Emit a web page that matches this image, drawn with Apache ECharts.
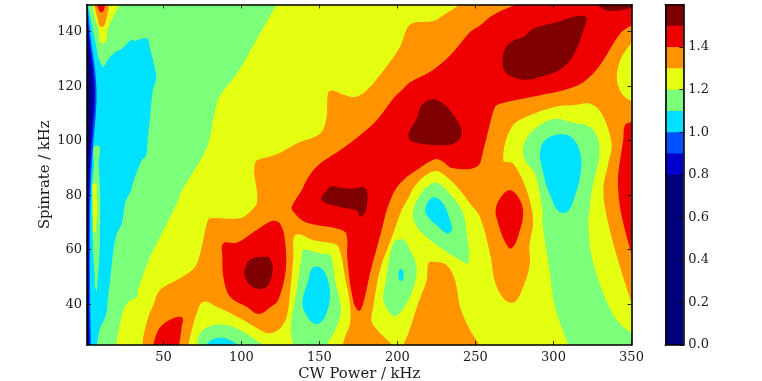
<!DOCTYPE html>
<html>
<head>
<meta charset="utf-8">
<style>html,body{margin:0;padding:0;background:#fff}#c{width:762px;height:381px}</style>
<script src="https://cdn.jsdelivr.net/npm/echarts@6/dist/echarts.min.js"></script>
</head>
<body>
<div id="c"></div>
<script>
// Contour levels (colour bar)
const levelEdges = [0, 0.8, 0.9, 1.0, 1.1, 1.2, 1.3, 1.4, 1.5, 1.6];
const levelColors = ['#00007f', '#0000cd', '#0050ff', '#00e0ff', '#7cff7a', '#e4ff12', '#ff9400', '#ee0000', '#7f0000'];
const colorbarTicks = [0, 0.2, 0.4, 0.6, 0.8, 1.0, 1.2, 1.4];
const xTicks = [50, 100, 150, 200, 250, 300, 350];
const yTicks = [40, 60, 80, 100, 120, 140];

// Filled regions, [CW power kHz, spinrate kHz]
const plotArea = [[1,25],[350,25],[350,150],[1,150]];
const greenLeft = [[1,150],[122.6,150],[111.9,139.4],[97.2,124.7],[86.3,116.7],[83.1,111.2],[77.9,97.6],[61.9,81.8],[58.7,77.1],[47.8,64.6],[41.4,57.3],[33.7,45.2],[33.1,42.6],[27.3,40.8],[23.5,36],[19.6,25],[1,25]];
const yellowLobe = [[4.3,150],[6.2,144.9],[8.1,141.6],[11.3,135.7],[14.5,141.2],[17.7,145.3],[22.2,150]];
const orangeLobe = [[5.7,150],[7.6,145.4],[10.5,141.7],[13.7,145.4],[15.1,150]];
const redLobe = [[7.5,150],[10.3,147.1],[12.6,150]];
const cyanMain = [[10.9,127.3],[14.7,130.1],[19,132.5],[23.3,133.8],[29.7,137.1],[31.8,136.6],[39.3,137.5],[41.4,133.8],[44.6,126.5],[45.3,122.8],[43.2,118.5],[41.4,108.7],[39.9,100.2],[38.9,94.7],[36.1,92.8],[30.7,84.9],[29.2,81.8],[25.4,77],[23.3,69.6],[20.1,65.9],[17.9,59.8],[15.8,48.8],[14.3,41.5],[13.2,36],[9.4,31.1],[7.3,25],[1,25],[1,150],[1.7,150],[6.2,136.8]];
const greenInner = [[7.3,98.3],[8.4,91],[9.4,81.8],[9.4,69],[9.1,59.9],[7.8,48.8],[6.8,45.2],[5.9,50.7],[4.9,59.9],[4.3,70.8],[4.3,81.8],[5.5,91]];
const yellowInner = [[5.7,84.4],[7.1,80],[7.8,74.5],[6.8,69],[5.7,66.4],[5.2,69],[4.8,76.3],[4.9,80]];
const blueEdge = [[1.4,150],[3.6,136.8],[6.2,125.8],[7.1,118.5],[6.8,111.2],[5.2,100.2],[3.9,89.2],[3,74.5],[3,41.5],[3.6,25],[1,25],[1,150]];
const darkBlueEdge = [[1,148],[2.7,136.8],[5.1,125.8],[6,118.5],[5.7,111.2],[4.1,100.2],[3,89.2],[2.3,74.5],[2.3,41.5],[2.7,25],[1,25]];
const navyEdge = [[1,144],[1.8,136.8],[4,125.8],[4.9,118.5],[4.6,111.2],[3,100.2],[2,89.2],[1.6,74.5],[1.6,41.5],[1.9,25],[1,25]];
const orangeMain = [[240.1,150],[229.2,146],[222.8,143.9],[209.9,143.2],[205.9,141.1],[201.6,134.4],[192,126.5],[180.3,118.5],[172.8,116],[165.1,117],[156.8,118.3],[155,114.8],[154.6,108.7],[150.4,102.6],[135.4,99],[122.6,95],[109.8,92.8],[108.7,91.7],[108.1,88.1],[109.8,81.8],[109.8,77.1],[105.5,73.9],[99.1,71.5],[79.9,71.5],[77.8,69.6],[74.5,61],[70.3,53.7],[60.6,49.5],[47.8,45.2],[43.5,39.7],[40.3,35.4],[37.1,28.1],[36.7,25],[197.1,25],[188.8,29.4],[183.5,33.6],[184.5,39],[188.8,52.5],[197.3,65.9],[202.7,74.5],[208,80],[210.1,82.5],[216.6,86.7],[224.5,88.9],[231.5,86.7],[240.1,81.8],[246.5,76.9],[252.9,72],[259.3,58.6],[263.6,46.4],[273.2,40.5],[280.6,46.4],[284.9,55],[284.5,61.1],[287,70.8],[282.8,81.8],[274.2,91.6],[267.8,92.8],[273.2,105],[284.9,109.3],[302,112.6],[312.7,113],[323.4,113.6],[330.9,110],[337.3,98.9],[335.1,91.6],[331.9,81.8],[335.1,69.6],[342.6,53.7],[350,40.5],[350,150]];
const yellowRightEdge = [[350,136],[343.7,130.7],[340.5,123.4],[343.7,117.3],[350,114.5]];
const yellowPatch = [[66,25],[68.1,30.5],[71.3,36.6],[75.6,40.9],[84.2,39],[99.1,34.8],[114,29.9],[118.3,29.3],[124.7,31.1],[129,35.4],[131.1,43.9],[133.3,57.4],[133.7,64.7],[137.5,65.6],[146.1,63.5],[156.8,62.5],[162.1,61.1],[166.4,50],[169.6,39.7],[169.6,33],[166.4,28],[164.9,25]];
const greenBottom = [[71.7,25],[73.5,29.3],[79.9,32],[90.6,32.3],[101,29.9],[110.8,26.2],[114,25]];
const cyanBottom = [[77.3,25],[81,26.9],[86.3,27.7],[91.6,27.1],[98,25]];
const green150 = [[133.3,25],[131.6,31.7],[135.4,45.2],[138.6,57.4],[139.6,59.9],[150.4,58.6],[156.8,58],[158.5,55],[160,48.8],[163.8,37.8],[160,30.5],[154.6,25]];
const cyan150 = [[146.1,53.5],[152.5,52.5],[156.8,44],[153.6,35.4],[148.3,32.7],[142.9,34.8],[139,40.3],[142.9,48.8]];
const orangeBottom = [[219.8,55],[223,55.6],[231.5,54.4],[236.9,48.8],[240.1,39],[246.5,30.5],[252.9,25],[203.7,25],[207,29.3],[213.3,40.4],[218.7,48.8]];
const greenRight = [[302.4,108.1],[294.5,106.9],[284.9,102.6],[280.6,97.7],[281.7,92.8],[288.1,88],[290.7,81.8],[293,74.5],[293,69.6],[297.7,51.3],[300.9,39],[309.5,25],[350,25],[350,29.3],[340.5,34.2],[331.9,44],[324.5,57.4],[322.3,69.6],[323.4,75.7],[324.5,81.8],[329.3,94],[328.7,100.2],[323.4,105],[310.6,106.9]];
const cyanRight = [[303.1,102.3],[310.6,101.6],[315.9,97.7],[318,91.6],[314.9,81.8],[306.3,73.5],[296.6,81.8],[293.5,88],[291.3,95.3],[294.5,100.2]];
const green200 = [[202.7,63.8],[205.9,62.3],[212.3,53.1],[208,42.7],[199.5,35.7],[195.2,36.7],[190.9,41.5],[192,46.4],[197.3,62.3]];
const cyan200 = [[202.3,52.9],[204,50.7],[202.3,48.5],[200.5,50.7]];
const green225 = [[210.1,74.5],[216.6,81.8],[223,84.5],[226.2,84.5],[231.5,81.8],[241.2,74.5],[244.4,66],[245.4,55.2],[240.1,56.2],[225.1,61.7],[212.3,68.4]];
const cyan225 = [[223,79.2],[228.3,77.6],[232.6,72.7],[233.7,66.2],[225.1,69],[218.7,72.7],[218.1,75.7]];
const redBig = [[276.4,150],[265.7,147.5],[259.3,145.4],[252.9,142.3],[246.5,139.9],[233.7,131.3],[220.8,125.2],[208,121.5],[203.7,119.1],[197.3,115.5],[186.7,107.5],[176,102],[163.2,96.5],[150.4,91.6],[142.9,86.7],[138.6,81.8],[132.2,75.7],[133.3,73.9],[140.7,70.2],[161,67.8],[167,66],[167.8,57.4],[170.7,44],[174.9,37.6],[178.1,40.3],[182.4,51.3],[189.9,67.2],[193.1,74.5],[198.4,81.8],[203.7,85.5],[212.3,89.2],[224,93.2],[229.4,92.2],[234.8,90],[250.8,90.4],[255,96.5],[259.3,106.3],[262.5,112.4],[265.7,113.6],[291.3,116.7],[306.3,118.5],[319.1,121.5],[329.8,127.7],[342.6,139.3],[350,142.3],[350,150]];
const redLeft = [[88.4,62.3],[97,62.5],[109.8,67.2],[119.4,70.5],[124.7,69.6],[127.9,63.5],[128.4,52.5],[123.6,41.5],[118.3,38.8],[110.8,36.4],[103.4,39],[92.7,42.7],[88.4,50],[87.8,57.4]];
const redBottom = [[43.5,25],[46.7,30.5],[52.1,33.6],[61.7,35.2],[61.7,31.7],[60,25]];
const red275 = [[272.1,81.8],[278.5,78.2],[280.6,73.3],[278.5,67.2],[273.2,60.5],[268.9,62.9],[264.6,69.6],[262.9,74.5],[265.7,78.8]];
const redRight = [[350,106.9],[345.8,105.7],[344.7,100.2],[341.5,88],[341.5,81.8],[342.6,75.7],[345.8,67.2],[350,58.6]];
const darkLeft = [[105.5,56.4],[114,57.4],[118.3,56.8],[120,52.5],[117.2,47],[111.9,45.5],[105.5,47],[101.9,50.7],[102.3,53.1]];
const darkMid = [[154.6,81.8],[157.9,83.3],[165.3,82.5],[173.9,82.5],[177.1,83.1],[180.3,81.8],[180.3,75.7],[176.4,72.1],[174.3,74.3],[163.2,75.7],[151.4,78.2]];
const darkCentre = [[215.5,113],[222,115.2],[229.4,113.6],[236.9,108.7],[241.2,103.2],[238,99.5],[230.5,98.3],[210.1,99.5],[206.9,102],[212.3,108.1]];
const darkUpper = [[320.2,145.6],[319.1,140.5],[312.7,131.3],[304.2,126.1],[291.3,123.4],[280.6,122.4],[270,124.6],[267.4,128.3],[268.9,133.8],[274.2,136.8],[280.6,138],[287,141.1],[302,143.5]];
const darkCorner = [[327.7,150],[334.1,147.8],[342.6,147.8],[350,148.8],[350,150]];

const [navy, darkBlue, blue, cyan, green, yellow, orange, red, darkRed] = levelColors;
const regions = [
  [plotArea, yellow], [greenLeft, green], [yellowLobe, yellow], [orangeLobe, orange], [redLobe, red],
  [cyanMain, cyan], [greenInner, green], [yellowInner, yellow],
  [blueEdge, blue], [darkBlueEdge, darkBlue], [navyEdge, navy],
  [orangeMain, orange], [yellowRightEdge, yellow], [yellowPatch, yellow],
  [greenBottom, green], [cyanBottom, cyan], [green150, green], [cyan150, cyan],
  [orangeBottom, orange], [greenRight, green], [cyanRight, cyan],
  [green200, green], [cyan200, cyan], [green225, green], [cyan225, cyan],
  [redBig, red], [redLeft, red], [redBottom, red], [red275, red], [redRight, red],
  [darkLeft, darkRed], [darkMid, darkRed], [darkCentre, darkRed], [darkUpper, darkRed], [darkCorner, darkRed]
];

// Rounded outline through the region's vertices; vertices on the plot frame stay sharp.
const onFrame = p => p[0] <= 1 || p[0] >= 350 || p[1] <= 25 || p[1] >= 150;
function outline(pts, api) {
  const s = pts.map(p => api.coord(p));
  const n = s.length;
  const dist = (a, b) => Math.hypot(a[0] - b[0], a[1] - b[1]);
  const unit = i => {
    if (onFrame(pts[i])) return [0, 0];
    const a = s[(i + n - 1) % n], b = s[(i + 1) % n];
    const d = dist(a, b) || 1;
    return [(b[0] - a[0]) / d, (b[1] - a[1]) / d];
  };
  let out = 'M' + s[0][0] + ' ' + s[0][1];
  for (let i = 0; i < n; i++) {
    const j = (i + 1) % n, t0 = unit(i), t1 = unit(j), d = dist(s[i], s[j]) * 0.33;
    out += 'C' + (s[i][0] + t0[0] * d) + ' ' + (s[i][1] + t0[1] * d) + ' ' +
      (s[j][0] - t1[0] * d) + ' ' + (s[j][1] - t1[1] * d) + ' ' + s[j][0] + ' ' + s[j][1];
  }
  return out + 'Z';
}

const font = {fontFamily: 'DejaVu Serif', fontSize: 13, color: '#1a1a1a'};
const line = {show: true, onZero: false, lineStyle: {color: '#000', width: 1.6}};
const tick = v => ({show: true, inside: true, length: 4, customValues: v, lineStyle: {color: '#000', width: 0.8}});
const chart = echarts.init(document.getElementById('c'), null, {renderer: 'canvas'});
chart.setOption({
  animation: false,
  grid: [
    {left: 87, top: 4.5, width: 544.5, height: 340.5, outerBoundsMode: 'none'},
    {left: 665.3, top: 4.5, width: 18, height: 340.5, outerBoundsMode: 'none'}
  ],
  xAxis: [
    {type: 'value', gridIndex: 0, min: 1, max: 350, position: 'bottom', z: 5, axisLine: line, axisTick: tick(xTicks),
     splitLine: {show: false}, axisLabel: {...font, margin: 6, customValues: xTicks},
     name: 'CW Power / kHz', nameLocation: 'middle', nameGap: 22, nameMoveOverlap: false,
     nameTextStyle: {fontFamily: 'DejaVu Serif', fontSize: 14.8, color: '#1a1a1a'}},
    {type: 'value', gridIndex: 0, min: 1, max: 350, position: 'top', z: 5, axisLine: line, axisTick: tick(xTicks),
     splitLine: {show: false}, axisLabel: {show: false}},
    {type: 'value', gridIndex: 1, min: 0, max: 1, position: 'bottom', z: 5, axisLine: line, axisTick: {show: false},
     splitLine: {show: false}, axisLabel: {show: false}},
    {type: 'value', gridIndex: 1, min: 0, max: 1, position: 'top', z: 5, axisLine: line, axisTick: {show: false},
     splitLine: {show: false}, axisLabel: {show: false}}
  ],
  yAxis: [
    {type: 'value', gridIndex: 0, min: 25, max: 150, position: 'left', z: 5, axisLine: line, axisTick: tick(yTicks),
     splitLine: {show: false}, axisLabel: {...font, margin: 5, customValues: yTicks},
     name: 'Spinrate / kHz', nameLocation: 'middle', nameGap: 34, nameRotate: 90, nameMoveOverlap: false,
     nameTextStyle: {fontFamily: 'DejaVu Serif', fontSize: 14.8, color: '#1a1a1a'}},
    {type: 'value', gridIndex: 0, min: 25, max: 150, position: 'right', z: 5, axisLine: line, axisTick: tick(yTicks),
     splitLine: {show: false}, axisLabel: {show: false}},
    {type: 'value', gridIndex: 1, min: 0, max: 1.6, position: 'right', z: 5, axisLine: line, axisTick: tick(colorbarTicks),
     splitLine: {show: false}, axisLabel: {...font, margin: 5, customValues: colorbarTicks, formatter: v => v.toFixed(1)}},
    {type: 'value', gridIndex: 1, min: 0, max: 1.6, position: 'left', z: 5, axisLine: line, axisTick: {show: false},
     splitLine: {show: false}, axisLabel: {show: false}}
  ],
  series: [
    {
      type: 'custom', xAxisIndex: 0, yAxisIndex: 0, clip: true, silent: true,
      data: regions.map((_, i) => [i]),
      encode: {x: [], y: []},
      renderItem: (params, api) => {
        const [pts, color] = regions[params.dataIndex];
        return {type: 'path', shape: {pathData: outline(pts, api)}, style: {fill: color}};
      }
    },
    {
      type: 'custom', xAxisIndex: 2, yAxisIndex: 2, silent: true,
      data: levelColors.map((_, i) => [i]),
      encode: {x: [], y: []},
      renderItem: (params, api) => {
        // each band is painted from its lower edge to the top, so no seams show between bands
        const i = params.dataIndex;
        const a = api.coord([0, levelEdges[i]]), b = api.coord([1, levelEdges[levelEdges.length - 1]]);
        return {type: 'rect', shape: {x: a[0], y: b[1], width: b[0] - a[0], height: a[1] - b[1]}, style: {fill: levelColors[i]}};
      }
    }
  ]
});
</script>
</body>
</html>
